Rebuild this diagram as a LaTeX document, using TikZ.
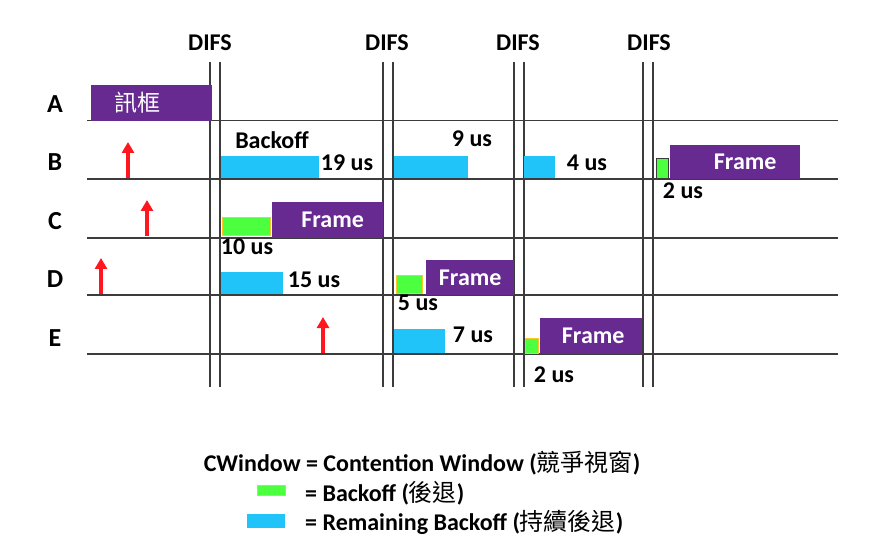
\documentclass[tikz,border=0pt]{standalone}
\usepackage{fontspec}
\setmainfont{Carlito}
\newfontfamily\cjk{Noto Sans CJK TC}
\usetikzlibrary{arrows.meta}
\definecolor{framepurple}{RGB}{102,42,145}
\definecolor{remcyan}{RGB}{32,196,248}
\definecolor{bogreen}{RGB}{76,255,63}
\definecolor{boorange}{RGB}{255,196,40}
\definecolor{linegray}{RGB}{60,60,60}
\definecolor{reqred}{RGB}{255,22,30}
\begin{document}
\begin{tikzpicture}[
    x=1pt, y=-1pt,
    lbl/.style={font=\fontsize{24}{28}\selectfont\bfseries, inner sep=0pt},
    rowlbl/.style={font=\fontsize{26}{30}\selectfont\bfseries, inner sep=0pt},
    frm/.style={
        rectangle, fill=framepurple, text=white, anchor=north west,
        font=\fontsize{24}{28}\selectfont\bfseries, inner sep=0pt
    },
    remain/.style={rectangle, fill=remcyan, anchor=north west, inner sep=0pt},
    boff/.style={rectangle, fill=bogreen, draw=boorange, thick, anchor=north west, inner sep=0pt},
    tline/.style={linegray, line width=1.6pt},
    difs/.style={linegray, line width=1.4pt},
    req/.style={-{Triangle[length=11pt,width=12pt]}, reqred, line width=3.6pt}
]
\useasboundingbox (0,0) rectangle (878,545);

% --- Time lines (one per station) ---
\draw[tline] (87,120.5) -- (838,120.5);
\draw[tline] (87,179) -- (838,179);
\draw[tline] (87,238) -- (838,238);
\draw[tline] (87,295) -- (838,295);
\draw[tline] (87,354) -- (838,354);

% --- DIFS markers ---
\node[lbl] (difs1) at (210,43) {DIFS};
\node[lbl] (difs2) at (387,43) {DIFS};
\node[lbl] (difs3) at (518,43) {DIFS};
\node[lbl] (difs4) at (649,43) {DIFS};
\draw[difs] (210,62) -- (210,387);  \draw[difs] (220,62) -- (220,387);
\draw[difs] (383,62) -- (383,387);  \draw[difs] (393,62) -- (393,387);
\draw[difs] (514,62) -- (514,387);  \draw[difs] (524,62) -- (524,387);
\draw[difs] (643,62) -- (643,387);  \draw[difs] (653,62) -- (653,387);

% --- Stations ---
\node[rowlbl] (staA) at (55,104) {A};
\node[rowlbl] (staB) at (55,162) {B};
\node[rowlbl] (staC) at (55,221) {C};
\node[rowlbl] (staD) at (55,279) {D};
\node[rowlbl] (staE) at (55,338) {E};

% --- Station A ---
\node[frm, minimum width=121, minimum height=36] (frA) at (91,85)
    {\cjk\mdseries\fontsize{23}{26}\selectfont 訊框\hspace*{28pt}};

% --- Station B ---
\coordinate (reqB0) at (128,178);
\coordinate (reqB1) at (128,142);
\draw[req] (reqB0) -- (reqB1);
\node[lbl] (bkB) at (272,140) {Backoff};
\node[remain, minimum width=98, minimum height=22] (remB1) at (221,156) {};
\node[lbl] (usB1) at (347,163) {19 us};
\node[remain, minimum width=74, minimum height=22] (remB2) at (394,156) {};
\node[lbl] (usB2) at (472,139) {9 us};
\node[remain, minimum width=31, minimum height=22] (remB3) at (524,156) {};
\node[lbl] (usB3) at (587,163) {4 us};
\node[boff, draw=linegray, minimum width=12, minimum height=20] (boB) at (655.5,158.5) {};
\node[frm, minimum width=130, minimum height=34] (frB) at (670,145) {\hspace*{20pt}Frame};
\node[lbl] (usB4) at (683,191) {2 us};

% --- Station C ---
\coordinate (reqC0) at (147,236);
\coordinate (reqC1) at (147,200);
\draw[req] (reqC0) -- (reqC1);
\node[boff, minimum width=48, minimum height=18] (boC) at (221.5,217.5) {};
\node[frm, minimum width=111, minimum height=36] (frC) at (272,202) {\hspace*{10pt}Frame};
\node[lbl] (usC) at (247,247) {10 us};

% --- Station D ---
\coordinate (reqD0) at (101,294);
\coordinate (reqD1) at (101,258);
\draw[req] (reqD0) -- (reqD1);
\node[remain, minimum width=62, minimum height=22] (remD) at (221,272) {};
\node[lbl] (usD1) at (314,280) {15 us};
\node[boff, minimum width=26, minimum height=18] (boD) at (395.5,275.5) {};
\node[frm, minimum width=88, minimum height=35] (frD) at (426,260) {Frame};
\node[lbl] (usD2) at (418,303) {5 us};

% --- Station E ---
\coordinate (reqE0) at (323,353);
\coordinate (reqE1) at (323,317);
\draw[req] (reqE0) -- (reqE1);
\node[remain, minimum width=51, minimum height=24] (remE) at (394,329) {};
\node[lbl] (usE1) at (473,335) {7 us};
\node[boff, minimum width=13, minimum height=15] (boE) at (524.5,337.5) {};
\node[frm, minimum width=102, minimum height=36] (frE) at (540,318) {\hspace*{4pt}Frame};
\node[lbl] (usE2) at (554,375) {2 us};

% --- Legend ---
\node[lbl] (cwin) at (422,463) {CWindow = Contention Window ({\cjk\mdseries 競爭視窗})};
\node[boff, minimum width=28, minimum height=10] (legBo) at (256.5,484.5) {};
\node[lbl, anchor=west] (legBoTxt) at (305,493) {= Backoff ({\cjk\mdseries 後退})};
\node[remain, minimum width=38, minimum height=14] (legRem) at (247,514) {};
\node[lbl, anchor=west] (legRemTxt) at (305,522) {= Remaining Backoff ({\cjk\mdseries 持續後退})};

\end{tikzpicture}
\end{document}
